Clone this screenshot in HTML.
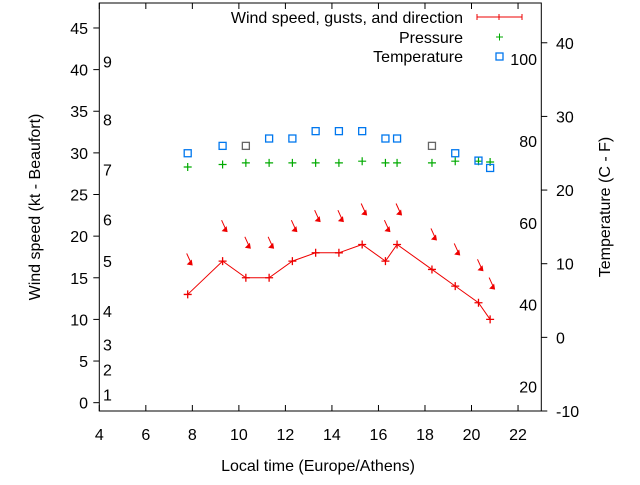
<!DOCTYPE html>
<html><head><meta charset="utf-8"><style>
body{margin:0;background:#fff}
svg text{font-family:"Liberation Sans",sans-serif;font-size:16px;fill:#000}
</style></head><body>
<svg id="c" width="640" height="480" xmlns="http://www.w3.org/2000/svg">
<g id="axes"></g>
<g id="marks"></g>
<g>
<text x="463" y="23" text-anchor="end">Wind speed, gusts, and direction</text>
<line x1="477" y1="17" x2="522" y2="17" stroke="#e00"/>
<line x1="477" y1="14" x2="477" y2="20" stroke="#e00"/><line x1="522" y1="14" x2="522" y2="20" stroke="#e00"/><line x1="499" y1="14" x2="499" y2="20" stroke="#e00"/>
<text x="463" y="43" text-anchor="end">Pressure</text>
<path d="M496 37h7M499.5 33.5v7" stroke="#0a0"/>
<text x="463" y="62" text-anchor="end">Temperature</text>
<rect x="496" y="53" width="7" height="7" fill="none" stroke="#07e" stroke-width="1.3"/>
</g>
</svg>
<script>
const times=[7.8,9.3,10.3,11.3,12.3,13.3,14.3,15.3,16.3,16.8,18.3,19.3,20.3,20.8];
const wind=[13,17,15,15,17,18,18,19,17,19,16,14,12,10];
const gusts=[16.6,20.6,18.6,18.6,20.6,21.8,21.8,22.6,20.6,22.6,19.6,17.8,15.9,13.7];
const pressure=[28.3,28.6,28.8,28.8,28.8,28.8,28.8,29.0,28.8,28.8,28.8,29.0,29.0,28.9];
const tempC=[25,26,26,27,27,28,28,28,27,27,26,25,24,23];
const xTicks=[4,6,8,10,12,14,16,18,20,22];
const yTicks=[0,5,10,15,20,25,30,35,40,45];
const cTicks=[-10,0,10,20,30,40];
const fTicks=[20,40,60,80,100];
const beaufort=[1,2,3,4,5,6,7,8,9];
const beaufortKt=[1,4,7,11,17,22,28,34,41];
const L=99.3,R=541.3,T=3,B=411;
const X=t=>L+(t-4)*(R-L)/19;
const Y=v=>B-(v+1)*(B-T)/49;
const YC=c=>B-(c+10)*(B-T)/55.4;
const YF=f=>YC((f-32)/1.8);
const NS="http://www.w3.org/2000/svg";
function mk(p,tag,a,txt){const e=document.createElementNS(NS,tag);for(const k in a)e.setAttribute(k,a[k]);if(txt!==undefined)e.textContent=txt;p.appendChild(e);return e;}
const ax=document.getElementById('axes'),mg=document.getElementById('marks');
let f=mk(ax,'rect',{x:L,y:T,width:R-L,height:B-T,fill:'none',stroke:'#000'});


xTicks.forEach(t=>{mk(ax,'line',{x1:X(t),x2:X(t),y1:B,y2:B-6,stroke:'#000'});mk(ax,'line',{x1:X(t),x2:X(t),y1:T,y2:T+6,stroke:'#000'});
let e=mk(ax,'text',{x:X(t),y:440,'text-anchor':'middle'},t);

});
yTicks.forEach(v=>{mk(ax,'line',{x1:L,x2:L-6,y1:Y(v),y2:Y(v),stroke:'#000'});
let e=mk(ax,'text',{x:88,y:Y(v)+6,'text-anchor':'end'},v);

});
cTicks.forEach(v=>{mk(ax,'line',{x1:R,x2:R+6,y1:YC(v),y2:YC(v),stroke:'#000'});
let e=mk(ax,'text',{x:556,y:YC(v)+6},v);

});
fTicks.forEach(v=>{let e=mk(ax,'text',{x:537,y:YF(v)+6,'text-anchor':'end'},v);

});
beaufort.forEach((b,i)=>{let e=mk(ax,'text',{x:103,y:Y(beaufortKt[i])+6},b);

});
let xt=mk(ax,'text',{x:318,y:471,'text-anchor':'middle'},'Local time (Europe/Athens)');


let yt=mk(ax,'text',{x:0,y:0,'text-anchor':'middle',transform:'translate(40,207) rotate(-90)'},'Wind speed (kt - Beaufort)');


let y2=mk(ax,'text',{x:0,y:0,'text-anchor':'middle',transform:'translate(610,207) rotate(-90)'},'Temperature (C - F)');


let pl=mk(mg,'polyline',{points:times.map((t,i)=>X(t)+','+Y(wind[i])).join(' '),fill:'none',stroke:'#e00'});


times.forEach((t,i)=>{
 let w=mk(mg,'path',{d:`M${X(t)-4} ${Y(wind[i])}h8M${X(t)} ${Y(wind[i])-4}v8`,stroke:'#e00','stroke-width':1.3});
 
 
 const hx=X(t)+4,hy=Y(gusts[i]);
 let g=mk(mg,'g',{});
 
 
 mk(g,'line',{x1:hx-5,y1:hy-11,x2:hx,y2:hy,stroke:'#e00'});
 mk(g,'polygon',{points:`${hx+1},${hy+1} ${hx-5},${hy} ${hx},${hy-5}`,fill:'#e00'});
 let p=mk(mg,'path',{d:`M${X(t)-4} ${Y(pressure[i])}h8M${X(t)} ${Y(pressure[i])-4}v8`,stroke:'#0a0','stroke-width':1.2});
 
 
 let s=mk(mg,'rect',{x:X(t)-3.5,y:YC(tempC[i])-3.5,width:7,height:7,fill:'none',stroke:(i==2||i==10)?'#666':'#07e','stroke-width':1.3});
 
 
});
</script>
</body></html>
